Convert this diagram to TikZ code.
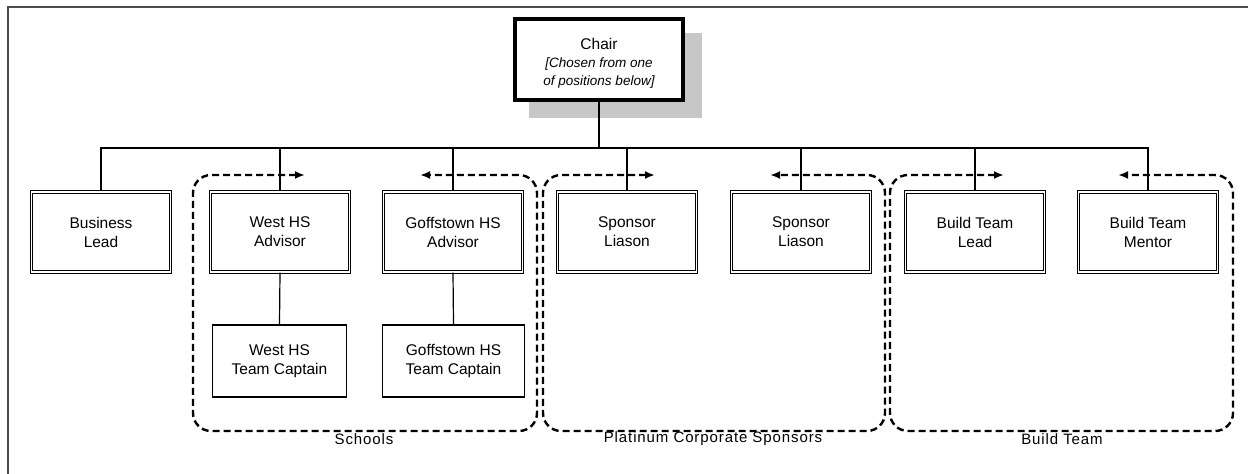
\documentclass[tikz,border=0pt]{standalone}
\usepackage{fontspec}
\setmainfont{Liberation Sans}
\usetikzlibrary{arrows.meta}
\begin{document}
\begin{tikzpicture}[x=1pt,y=-1pt,
  role/.style={draw, line width=1.1pt, double=white, double distance=1.6pt,
    minimum width=139pt, minimum height=80pt, align=center, inner sep=0pt,
    font=\fontsize{15.5}{19}\selectfont},
  captain/.style={draw, line width=1.1pt, minimum height=72pt, align=center, inner sep=0pt,
    font=\fontsize{15.5}{19}\selectfont},
  conn/.style={draw, line width=1.2pt},
  grp/.style={draw, line width=2.4pt, dash pattern=on 7pt off 4pt, rounded corners=18pt,
    {Latex[length=10pt,width=8pt]}-{Latex[length=10pt,width=8pt]}},
  grplabel/.style={font=\fontsize{15}{17}\selectfont\addfontfeature{LetterSpace=6}, inner sep=0pt},
  frame/.style={draw=black!70, line width=1.4pt}
]
\useasboundingbox (0,0) rectangle (1248,474);
% outer frame (top and left edges visible)
\draw[frame] (8,474) -- (8,7) -- (1248,7);

% chair with shadow
\fill[black!22] (529,33) rectangle (702,118);
\node[draw, line width=4pt, fill=white, minimum width=168pt, minimum height=81pt,
  align=center, inner sep=0pt, font=\fontsize{13.5}{18}\selectfont] (chair) at (599,59.5)
  {\rule{0pt}{18pt}{\fontsize{15.5}{18}\selectfont Chair}\\
   {\itshape [Chosen from one}\\
   {\itshape of positions below]}};

% roles
\node[role] (biz) at (101,232) {Business\\Lead};
\node[role] (west) at (280,232) {West HS\\Advisor};
\node[role] (goff) at (453,232) {Goffstown HS\\Advisor};
\node[role] (sp1) at (627,232) {Sponsor\\Liason};
\node[role] (sp2) at (801,232) {Sponsor\\Liason};
\node[role] (bl) at (975,232) {Build Team\\Lead};
\node[role] (bm) at (1148,232) {Build Team\\Mentor};

\node[captain, minimum width=134pt] (westc) at (279.5,361) {West HS\\Team Captain};
\node[captain, minimum width=142pt] (goffc) at (453.5,361) {Goffstown HS\\Team Captain};

% connectors
\coordinate (bus) at (599,148);
\draw[conn] (chair.south) -- (bus);
\draw[conn] (biz.north) |- (bus) -| (bm.north);
\foreach \n in {west,goff,sp1,sp2,bl}
  \draw[conn] (\n.north) -- (\n.north |- bus);
\draw[conn] (west.south) -- (westc.north);
\draw[conn] (goff.south) -- (goffc.north);

% groups
\coordinate (sA) at (305,175); \coordinate (sB) at (420,175);
\coordinate (pA) at (655,175); \coordinate (pB) at (770,175);
\coordinate (bA) at (1004,175); \coordinate (bB) at (1118,175);
\draw[grp] (sA) -- (193,175) -- (193,431) -- (537,431) -- (537,175) -- (sB);
\draw[grp] (pA) -- (543,175) -- (543,431) -- (885,431) -- (885,175) -- (pB);
\draw[grp] (bA) -- (890,175) -- (890,431) -- (1233,431) -- (1233,175) -- (bB);

\node[grplabel] (lschools) at (364,439) {Schools};
\node[grplabel] (lplat) at (713,439) {Platinum Corporate Sponsors};
\node[grplabel] (lbuild) at (1062,439) {Build Team};
\end{tikzpicture}
\end{document}
